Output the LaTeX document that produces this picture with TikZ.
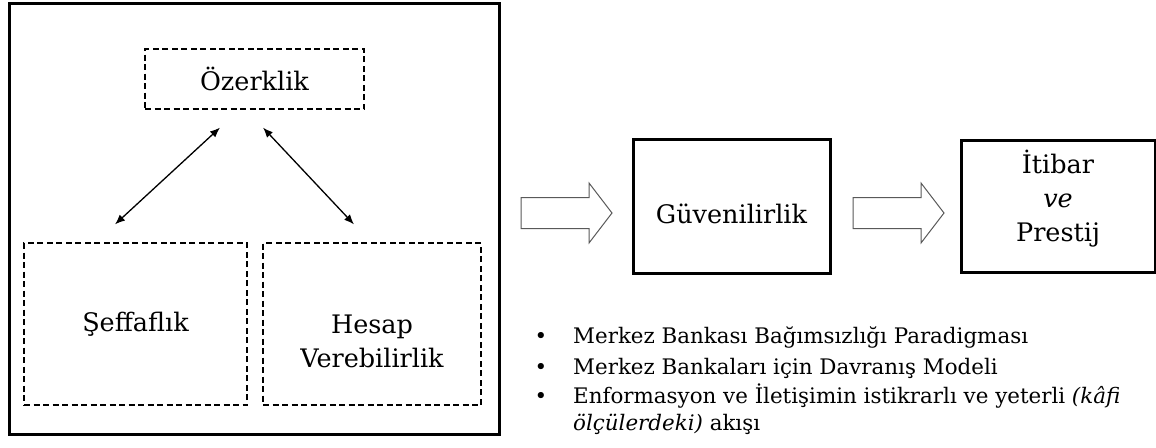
\documentclass[tikz,border=0pt]{standalone}
\usepackage{fontspec}
\setmainfont{DejaVu Serif}
\usetikzlibrary{arrows.meta,positioning}
\tikzset{
       arr/.style = {{Latex[length=10pt,width=8pt]}-{Latex[length=10pt,width=8pt]}, line width=1.3pt},  % <--- both ends
      base/.style = {draw, inner sep=0pt, align=center,
                     font=\fontsize{25.5}{34}\selectfont},
     panel/.style = {base, line width=3pt},
   dashbox/.style = {base, dash pattern=on 6pt off 3.5pt, line width=1.2pt},
    bigbox/.style = {base, line width=3pt},
       lbl/.style = {inner sep=0pt, align=center, font=\fontsize{25.5}{34}\selectfont},
      item/.style = {inner sep=0pt, anchor=base west, align=left,
                     font=\fontsize{21.4}{27.5}\selectfont},
       bul/.style = {inner sep=0pt, anchor=base, font=\fontsize{21.4}{27.5}\selectfont},
  blockarrow/.pic = {\draw[line width=1pt, draw=black!65, fill=white]
                     (0,-15.5) -- (68,-15.5) -- (68,-30) -- (91,0) -- (68,30) -- (68,15.5) -- (0,15.5) -- cycle;},
        }

\begin{document}
\begin{tikzpicture}[x=1pt,y=-1pt]
\useasboundingbox (0,0) rectangle (1156,447);
% left panel
\node[panel, minimum width=490pt, minimum height=431pt] (panel) at (254,218.5) {};
\node[dashbox, minimum width=219pt, minimum height=60pt] (ozerk) at (254.5,79) {Özerklik};
\node[dashbox, minimum width=223pt, minimum height=162pt] (seff) at (135.5,324) {Şeffaflık};
\node[dashbox, minimum width=218pt, minimum height=162pt,
      label={[lbl,yshift=-17.5pt]center:{Hesap\\Verebilirlik}}] (hesap) at (372,324) {};
\draw[arr] ([xshift=-34.5pt,yshift=-18pt]ozerk.south) -- ([xshift=-20.5pt,yshift=18pt]seff.north);
\draw[arr] ([xshift=8.5pt,yshift=-18pt]ozerk.south) -- ([xshift=-18pt,yshift=18pt]hesap.north);
% chain on the right
\pic at (521,213) {blockarrow};
\node[bigbox, minimum width=197pt, minimum height=134pt,
      label={[lbl,yshift=-8pt]center:Güvenilirlik}] (guven) at (731.5,206) {};
\pic at (853,213) {blockarrow};
\node[bigbox, minimum width=194pt, minimum height=132pt,
      label={[lbl,yshift=7.5pt]center:{İtibar\\\textit{ve}\\Prestij}}] (itibar) at (1058,206) {};
% list
\foreach \n/\y in {1/343,2/374,3/403}
  \node[bul] (bul\n) at (541,\y) {\textbullet};
\node[item] (item1) at ([xshift=32pt]bul1.base) {Merkez Bankası Bağımsızlığı Paradigması};
\node[item] (item2) at ([xshift=32pt]bul2.base) {Merkez Bankaları için Davranış Modeli};
\node[item] (item3) at ([xshift=32pt,yshift=-27.5pt]bul3.base) {Enformasyon ve İletişimin istikrarlı ve yeterli \textit{(kâfi}\\\textit{ölçülerdeki)} akışı};
\end{tikzpicture}
\end{document}
